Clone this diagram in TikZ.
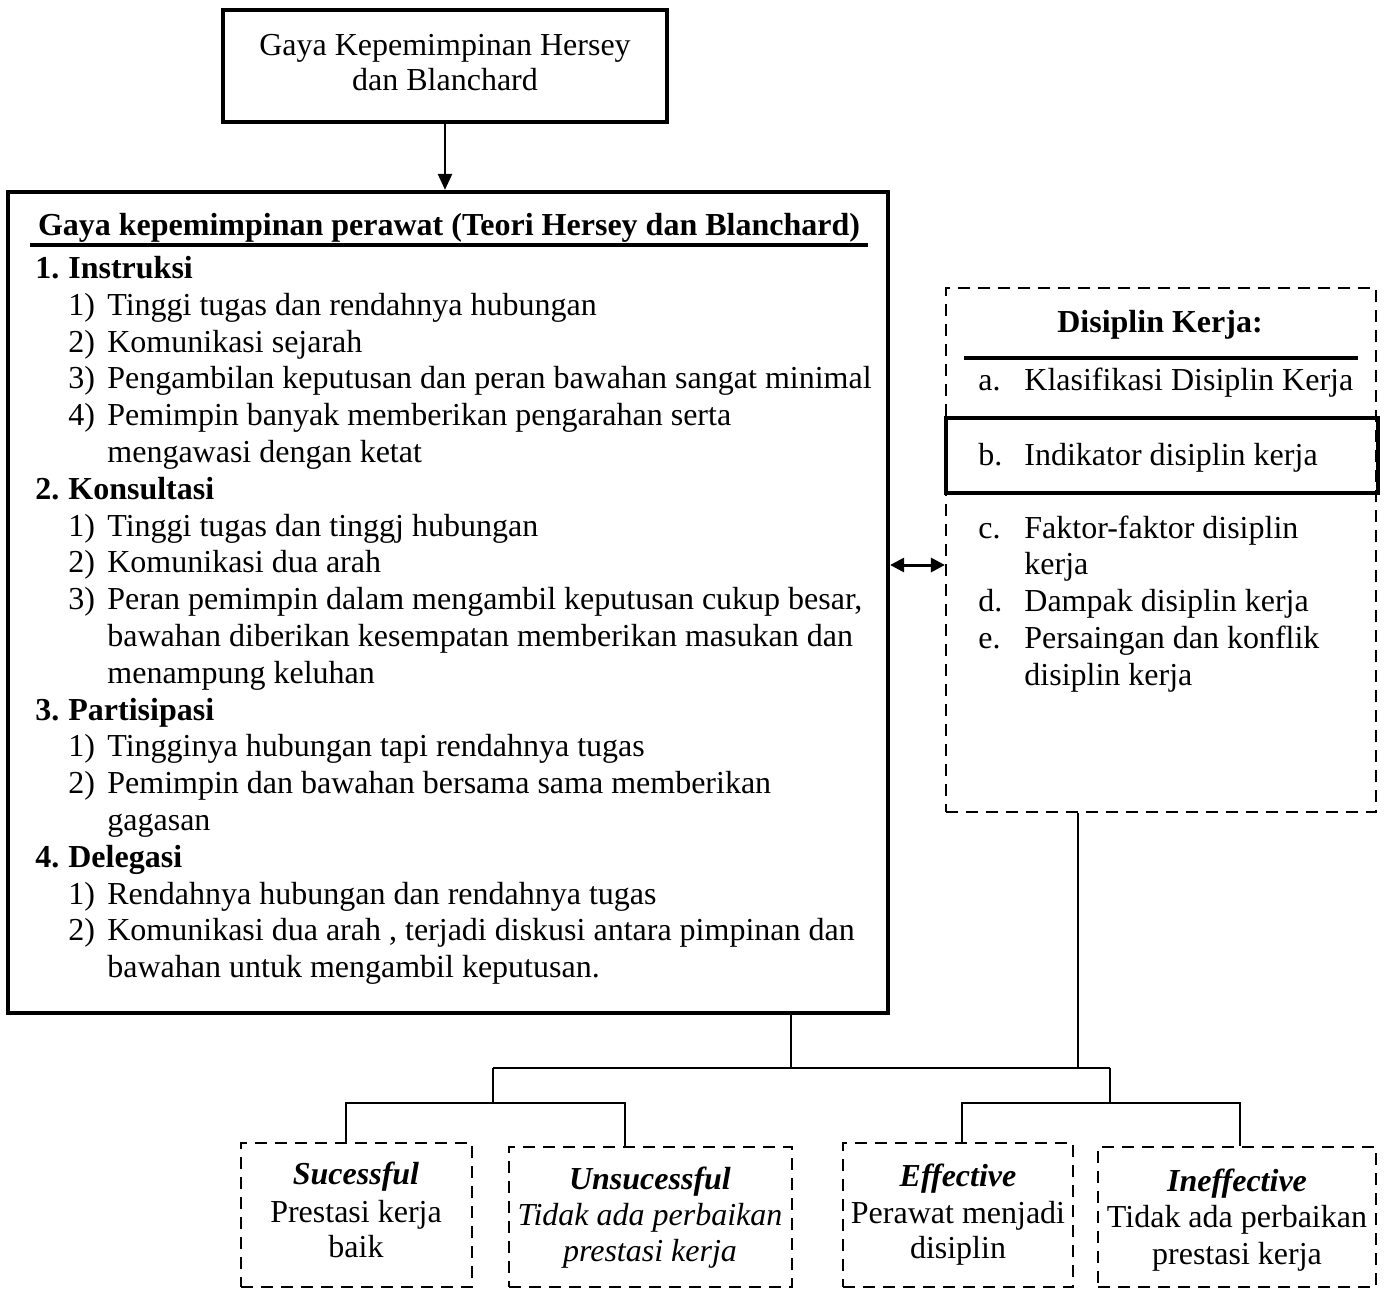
\documentclass[tikz,border=0pt]{standalone}
\usepackage{fontspec}
\setmainfont{Liberation Serif}
\usetikzlibrary{arrows.meta}
\begin{document}
\begin{tikzpicture}[x=0.5pt,y=-0.5pt,
  txt/.style={anchor=base west, inner sep=0pt, font=\fontsize{16}{18.4}\selectfont},
  btxt/.style={anchor=base west, inner sep=0pt, font=\fontsize{16}{18.4}\selectfont\bfseries},
  ctxt/.style={anchor=base, inner sep=0pt, font=\fontsize{16}{18.4}\selectfont},
  solidbox/.style={draw, line width=1.6pt, inner sep=0pt},
  heavybox/.style={draw, line width=2.1pt, inner sep=0pt},
  dashbox/.style={draw, line width=1.1pt, dash pattern=on 6pt off 4pt, inner sep=0pt},
  conn/.style={line width=1.1pt},
  arr/.style={line width=1.2pt, -{Triangle[length=8pt,width=7pt]}},
  darr/.style={line width=1.5pt, {Triangle[length=7pt,width=7pt]}-{Triangle[length=7pt,width=7pt]}}
]
\useasboundingbox (0,0) rectangle (1386,1295);

% boxes
\node[solidbox, minimum width=222pt, minimum height=56pt] (top) at (445,66) {};
\node[heavybox, minimum width=440pt, minimum height=410.5pt] (lbox) at (448,602.5) {};
\node[dashbox, minimum width=215pt, minimum height=262pt] (rbox) at (1161,550) {};
\node[heavybox, minimum width=216pt, minimum height=37.5pt] (bbox) at (1162,455.5) {};
\node[dashbox, minimum width=115.5pt, minimum height=72pt] (succ) at (356.5,1215) {};
\node[dashbox, minimum width=141.5pt, minimum height=70pt] (unsucc) at (650.5,1217) {};
\node[dashbox, minimum width=115pt, minimum height=72pt] (eff) at (958,1215) {};
\node[dashbox, minimum width=139pt, minimum height=70pt] (ineff) at (1237,1217) {};

\coordinate (ulL) at (30,245);
\coordinate (ulR) at (868,245);
\draw[line width=1.6pt] (ulL) -- (ulR);
\coordinate (rulL) at (964,358);
\coordinate (rulR) at (1358,358);
\draw[line width=1.6pt] (rulL) -- (rulR);

\begin{scope}[yshift=-1.75pt]
% top box text
\node[ctxt] (t1) at (445,52) {Gaya Kepemimpinan Hersey};
\node[ctxt] (t2) at (445,87) {dan Blanchard};

% left box text
\node[ctxt, font=\fontsize{16}{18.4}\selectfont\bfseries] (hdr) at (449,232) {Gaya kepemimpinan perawat (Teori Hersey dan Blanchard)};

\node[btxt] (l0) at (35,275) {\makebox[16.5pt][l]{1.}Instruksi};
\node[txt] (l1) at (68,311.8) {\makebox[19.5pt][l]{1)}Tinggi tugas dan rendahnya hubungan};
\node[txt] (l2) at (68,348.6) {\makebox[19.5pt][l]{2)}Komunikasi sejarah};
\node[txt] (l3) at (68,385.4) {\makebox[19.5pt][l]{3)}Pengambilan keputusan dan peran bawahan sangat minimal};
\node[txt] (l4) at (68,422.2) {\makebox[19.5pt][l]{4)}Pemimpin banyak memberikan pengarahan serta};
\node[txt] (l5) at (107,459) {mengawasi dengan ketat};
\node[btxt] (l6) at (35,495.8) {\makebox[16.5pt][l]{2.}Konsultasi};
\node[txt] (l7) at (68,532.6) {\makebox[19.5pt][l]{1)}Tinggi tugas dan tinggj hubungan};
\node[txt] (l8) at (68,569.4) {\makebox[19.5pt][l]{2)}Komunikasi dua arah};
\node[txt] (l9) at (68,606.2) {\makebox[19.5pt][l]{3)}Peran pemimpin dalam mengambil keputusan cukup besar,};
\node[txt] (l10) at (107,643) {bawahan diberikan kesempatan memberikan masukan dan};
\node[txt] (l11) at (107,679.8) {menampung keluhan};
\node[btxt] (l12) at (35,716.6) {\makebox[16.5pt][l]{3.}Partisipasi};
\node[txt] (l13) at (68,753.4) {\makebox[19.5pt][l]{1)}Tingginya hubungan tapi rendahnya tugas};
\node[txt] (l14) at (68,790.2) {\makebox[19.5pt][l]{2)}Pemimpin dan bawahan bersama sama memberikan};
\node[txt] (l15) at (107,827) {gagasan};
\node[btxt] (l16) at (35,863.8) {\makebox[16.5pt][l]{4.}Delegasi};
\node[txt] (l17) at (68,900.6) {\makebox[19.5pt][l]{1)}Rendahnya hubungan dan rendahnya tugas};
\node[txt] (l18) at (68,937.4) {\makebox[19.5pt][l]{2)}Komunikasi dua arah , terjadi diskusi antara pimpinan dan};
\node[txt] (l19) at (107,974.2) {bawahan untuk mengambil keputusan.};

% right box text
\node[ctxt, font=\fontsize{16}{18.4}\selectfont\bfseries] (rhdr) at (1160,329) {Disiplin Kerja:};
\node[txt] (ra) at (978,387) {\makebox[23pt][l]{a.}Klasifikasi Disiplin Kerja};
\node[txt] (rb) at (978,462) {\makebox[23pt][l]{b.}Indikator disiplin kerja};
\node[txt] (rc) at (978,535) {\makebox[23pt][l]{c.}Faktor-faktor disiplin};
\node[txt] (rc2) at (1024,571) {kerja};
\node[txt] (rd) at (978,608) {\makebox[23pt][l]{d.}Dampak disiplin kerja};
\node[txt] (re) at (978,645) {\makebox[23pt][l]{e.}Persaingan dan konflik};
\node[txt] (re2) at (1024,682) {disiplin kerja};

% bottom box text
\node[ctxt, font=\fontsize{16}{18.4}\selectfont\bfseries\itshape] (s1) at (356,1181) {Sucessful};
\node[ctxt] (s2) at (356,1219) {Prestasi kerja};
\node[ctxt] (s3) at (356,1254) {baik};
\node[ctxt, font=\fontsize{16}{18.4}\selectfont\bfseries\itshape] (u1) at (650,1186) {Unsucessful};
\node[ctxt, font=\fontsize{16}{18.4}\selectfont\itshape] (u2) at (650,1222) {Tidak ada perbaikan};
\node[ctxt, font=\fontsize{16}{18.4}\selectfont\itshape] (u3) at (650,1258) {prestasi kerja};
\node[ctxt, font=\fontsize{16}{18.4}\selectfont\bfseries\itshape] (e1) at (958,1183) {Effective};
\node[ctxt] (e2) at (958,1220) {Perawat menjadi};
\node[ctxt] (e3) at (958,1255) {disiplin};
\node[ctxt, font=\fontsize{16}{18.4}\selectfont\bfseries\itshape] (i1) at (1237,1188) {Ineffective};
\node[ctxt] (i2) at (1237,1224) {Tidak ada perbaikan};
\node[ctxt] (i3) at (1237,1261) {prestasi kerja};
\end{scope}

% connectors
\draw[arr] (top.south) -- (top.south |- lbox.north);
\coordinate (da) at (900,565);
\draw[darr] (lbox.east |- da) -- (rbox.west |- da);

\coordinate (j1) at (791,1068);
\coordinate (j2) at (1078,1068);
\coordinate (h1L) at (493,1068);
\coordinate (h1R) at (1110,1068);
\coordinate (a1) at (346,1103);
\coordinate (a2) at (625,1103);
\coordinate (b1) at (962,1103);
\coordinate (b2) at (1240,1103);
\draw[conn] (lbox.south -| j1) -- (j1);
\draw[conn] (rbox.south -| j2) -- (j2);
\draw[conn] (h1L) -- (h1R);
\draw[conn] (h1L) -- (h1L |- a1);
\draw[conn] (h1R) -- (h1R |- b1);
\draw[conn] (succ.north -| a1) |- (a2) -- (unsucc.north -| a2);
\draw[conn] (eff.north -| b1) |- (b2) -- (ineff.north -| b2);
\end{tikzpicture}
\end{document}
